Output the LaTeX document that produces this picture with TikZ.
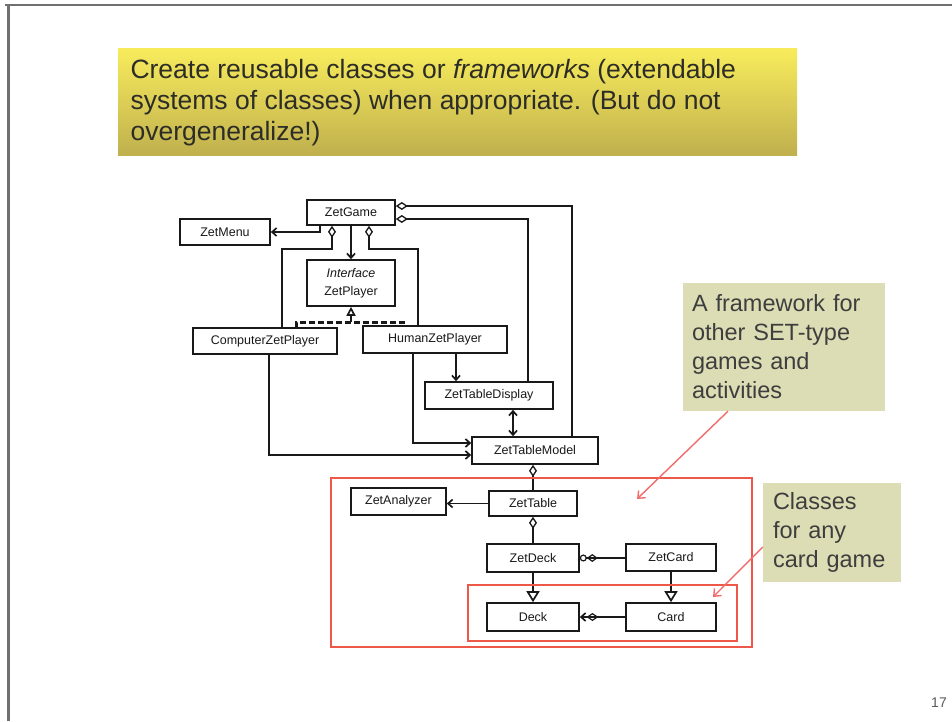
\documentclass[tikz,border=0pt]{standalone}
\usepackage{fontspec}
\setmainfont{Liberation Sans}
\usetikzlibrary{arrows.meta,calc}

\definecolor{framegray}{RGB}{112,112,112}
\definecolor{titletop}{RGB}{248,236,92}
\definecolor{titlebot}{RGB}{192,176,78}
\definecolor{titletext}{RGB}{45,45,40}
\definecolor{notefill}{RGB}{221,221,181}
\definecolor{notetext}{RGB}{62,62,62}
\definecolor{groupred}{RGB}{238,88,72}
\definecolor{pointred}{RGB}{242,108,108}
\definecolor{umlink}{RGB}{25,25,25}

\begin{document}
\begin{tikzpicture}[x=1pt,y=-1pt,
  cls/.style={draw=umlink, line width=1.6pt, fill=white, inner sep=0pt,
    font=\fontsize{12.5}{18}\selectfont, text=umlink},
  link/.style={line width=1.7pt, draw=umlink},
  nav/.style={link, -{Straight Barb[length=4.5pt,width=8pt]}},
  bothnav/.style={link, {Straight Barb[length=4.5pt,width=8pt]}-{Straight Barb[length=4.5pt,width=8pt]}},
  aggr/.style={link, {Diamond[open,length=12pt,width=8pt,line width=1.3pt]}-},
  inherit/.style={link, -{Triangle[open,length=11pt,width=13pt]}},
  realize/.style={link, -{Triangle[open,length=9pt,width=9pt]}},
  dashline/.style={line width=3pt, draw=umlink, dash pattern=on 6pt off 3pt},
  group/.style={draw=groupred, line width=1.5pt},
  pointer/.style={draw=pointred, line width=1.4pt, -{Straight Barb[length=6pt,width=10pt]}},
  note/.style={fill=notefill, text=notetext, align=left, anchor=center,
    font=\fontsize{23.5}{29}\selectfont},
]
% page area and slide frame
\useasboundingbox (0,0) rectangle (952,721);
\fill[white] (0,0) rectangle (952,721);
\draw[framegray, line width=2.2pt] (5,5) -- (952,5);
\draw[framegray, line width=3pt] (8,5) -- (8,721);

% headline box with gradient
\shade[top color=titletop, bottom color=titlebot] (118,48) rectangle (797,155);
\node[anchor=west, align=left, text=titletext, font=\fontsize{26.5}{31}\selectfont]
  (headline) at (127,102.5)
  {Create reusable classes or \textit{frameworks} (extendable\\
   systems of classes) when appropriate. (But do not\\
   overgeneralize!)};

% classes
\node[cls, minimum width=88pt, minimum height=25pt] (zetgame)  at (351,212.5) {ZetGame};
\node[cls, minimum width=90pt, minimum height=26pt] (zetmenu)  at (225,232) {ZetMenu};
\node[cls, minimum width=88pt, minimum height=46pt, align=center] (zetplayer) at (351,283)
  {\textit{Interface}\\ZetPlayer};
\node[cls, minimum width=144pt, minimum height=26pt] (computer) at (265,341) {ComputerZetPlayer};
\node[cls, minimum width=144pt, minimum height=27pt] (human)    at (435,339.5) {HumanZetPlayer};
\node[cls, minimum width=128pt, minimum height=27pt] (display)  at (489,395.5) {ZetTableDisplay};
\node[cls, minimum width=126pt, minimum height=27pt] (model)    at (535,450.5) {ZetTableModel};
\node[cls, minimum width=88pt,  minimum height=25pt] (zettable) at (533,503.5) {ZetTable};
\node[cls, minimum width=95pt,  minimum height=27pt] (analyzer) at (398.5,501.5) {ZetAnalyzer};
\node[cls, minimum width=92pt,  minimum height=28pt] (zetdeck)  at (533,558) {ZetDeck};
\node[cls, minimum width=90pt,  minimum height=27pt] (zetcard)  at (671,557.5) {ZetCard};
\node[cls, minimum width=92pt,  minimum height=28pt] (deck)     at (533,617) {Deck};
\node[cls, minimum width=90pt,  minimum height=28pt] (card)     at (671,617) {Card};

% associations around ZetGame
\draw[nav] ([xshift=-31pt]zetgame.south) |- (zetmenu.east);
\draw[nav] (zetgame.south) -- (zetgame.south |- zetplayer.north);
\draw[aggr] ([xshift=-19pt]zetgame.south) -- ++(0,23) -| ([xshift=17pt]computer.north);
\draw[aggr] ([xshift=18pt]zetgame.south) -- ++(0,23) -| ([xshift=-17pt]human.north);
\draw[aggr] ([yshift=6.5pt]zetgame.east) -| ([xshift=37pt]model.north);
\draw[aggr] ([yshift=-6.5pt]zetgame.east) -| ([xshift=39pt]display.north);

% interface realization
\coordinate (rjoin) at (351,322);
\draw[realize] (rjoin) -- (zetplayer.south);
\draw[dashline] ([xshift=31pt]computer.north) |- (rjoin) -| ([xshift=-32pt]human.north);

% players, display and model
\draw[nav] ([xshift=4pt]computer.south) |- ([yshift=-4.5pt]model.west);
\draw[nav] ([xshift=-22pt]human.south) |- ([yshift=7.5pt]model.west);
\draw[nav] ([xshift=21pt]human.south) -- ([xshift=-33pt]display.north);
\draw[bothnav] ([xshift=24pt]display.south) -- ([xshift=-22pt]model.north);

% table, deck and cards
\draw[aggr] ([xshift=-2pt]model.south) -- (zettable.north);
\draw[nav] (zettable.west) -- (zettable.west -| analyzer.east);
\draw[aggr] (zettable.south) -- (zetdeck.north);
\draw[link, {Circle[open,length=7pt,width=7pt,line width=1.2pt] Diamond[open,length=11pt,width=8pt,line width=1.2pt]}-]
  (zetdeck.east) -- (zetdeck.east -| zetcard.west);
\draw[inherit] (zetdeck.south) -- (deck.north);
\draw[inherit] (zetcard.south) -- (card.north);
\draw[link, {Straight Barb[length=4.5pt,width=8pt] Diamond[open,length=12pt,width=8pt,line width=1.2pt]}-]
  (deck.east) -- (card.west);

% framework groupings
\draw[group] (331,478) rectangle (752,647);
\draw[group] (468,585) rectangle (737,641);

% callouts
\node[note, minimum width=202pt, minimum height=128pt, text width=184pt] (fwnote) at (784,347)
  {A framework for\\other SET-type\\games and\\activities};
\node[note, minimum width=138pt, minimum height=99pt, text width=118pt] (cardnote) at (832,532.5)
  {Classes\\for any\\card game};
\coordinate (fwtarget) at (637,499);
\coordinate (cardtarget) at (713,597);
\draw[pointer] ([xshift=-56pt]fwnote.south) -- (fwtarget);
\draw[pointer] ([yshift=-14.5pt]cardnote.west) -- (cardtarget);

% slide number
\node[text=black!65, font=\fontsize{14}{16}\selectfont] (pageno) at (939,703) {17};
\end{tikzpicture}
\end{document}
